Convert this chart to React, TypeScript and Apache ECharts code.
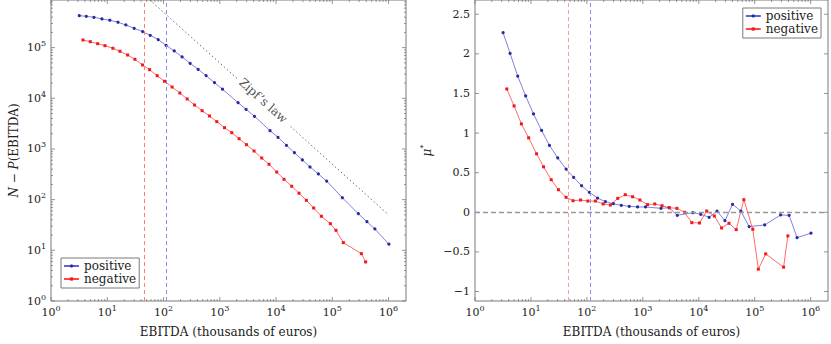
import React, { useEffect, useRef } from 'react';
import * as echarts from 'echarts';

// ---- data ----
const posX = [3.18, 4.24, 5.8, 8.04, 11.1, 15.5, 21.4, 30.1, 42.5, 58.0, 80.4, 111, 155, 214, 297, 412, 571, 805, 1117, 2113, 2931, 4131, 7816, 10830, 15280, 21190, 29380, 40090, 56500, 79400, 150700, 290000, 412000, 571000, 1013000];
const posCount = [427000, 416000, 397000, 368000, 347000, 317000, 280000, 241000, 207000, 175000, 144000, 111000, 85900, 65400, 49100, 37400, 28000, 20400, 15100, 8200, 6070, 4420, 2296, 1702, 1184, 846, 607, 441, 321, 233, 109, 52.8, 36.7, 26.4, 13.2];
const posMu = [2.267, 2.006, 1.72, 1.469, 1.242, 1.033, 0.844, 0.688, 0.545, 0.441, 0.335, 0.252, 0.18, 0.134, 0.108, 0.088, 0.076, 0.067, 0.067, 0.05, 0.058, -0.038, -0.005, -0.025, -0.063, 0.016, -0.106, 0.101, 0.016, -0.181, -0.16, -0.034, -0.038, -0.32, -0.264];

const negX = [3.7, 4.99, 6.75, 9.1, 12.6, 16.8, 23.0, 31.0, 42.4, 56.5, 77.1, 104, 142, 195, 263, 356, 485, 656, 885, 1213, 1634, 2203, 2978, 4064, 5570, 7500, 10280, 13860, 18970, 25570, 34600, 46650, 63900, 92300, 116000, 157000, 328000, 391000];
const negCount = [141600, 131000, 119600, 109300, 97100, 84700, 71600, 58900, 45500, 36700, 27900, 21700, 16700, 12700, 9700, 7380, 5700, 4480, 3460, 2630, 2096, 1595, 1216, 913, 664, 499, 351, 252, 184, 134, 97.1, 68.4, 47.0, 33.6, 24.8, 14.2, 8.6, 5.9];
const negMu = [1.557, 1.343, 1.116, 0.94, 0.738, 0.574, 0.411, 0.285, 0.189, 0.146, 0.155, 0.142, 0.142, 0.105, 0.092, 0.176, 0.222, 0.196, 0.155, 0.096, 0.105, 0.083, 0.058, 0.05, 0.0, -0.131, -0.135, 0.016, -0.047, -0.198, -0.139, -0.219, 0.159, -0.214, -0.718, -0.525, -0.693, -0.298];

const thresholdNeg = 45.5;
const thresholdPos = 113;

const zipfUpper = [[50, 1000000], [2040, 24500]];
const zipfLower = [[18000, 2780], [1000000, 50]];
const zipfLabelAt = [5900, 9000];
const zipfLabel = 'Zipf’s law';

const seriesNames = ['positive', 'negative'];
const xTitle = 'EBITDA (thousands of euros)';

const xDecades = [1, 10, 100, 1000, 10000, 100000, 1000000];
const yDecades = [1, 10, 100, 1000, 10000, 100000];
const minorSteps = [2, 3, 4, 5, 6, 7, 8, 9];
const muTicks = [-1, -0.5, 0, 0.5, 1, 1.5, 2, 2.5];

const X_MIN = 1;
const X_MAX = 2040000;
const Y1_MIN = 1;
const Y1_MAX = 871000;
const Y2_MIN = -1.12;
const Y2_MAX = 2.68;

// ---- styles ----
const FONT = '"DejaVu Serif", "Liberation Serif", serif';
const INK = '#222';
const FRAME = '#7a7a7a';
const BLUE_LINE = '#6262d6';
const BLUE_MARK = '#2a2aa0';
const RED_LINE = '#ff4646';
const RED_MARK = '#f01818';

function powLabel(v: number): string {
  const k = Math.log10(v);
  const r = Math.round(k);
  if (Math.abs(k - r) > 1e-6) return '';
  return '{b|10}{s|' + r + '}';
}
const powRich = {
  b: { fontFamily: FONT, fontSize: 11, color: INK, lineHeight: 16 },
  s: { fontFamily: FONT, fontSize: 8, color: INK, lineHeight: 8, verticalAlign: 'top' },
};
function muLabel(v: number): string {
  const r = Math.round(v * 2) / 2;
  if (Math.abs(v - r) > 1e-6) return '';
  return r < 0 ? '−' + String(-r) : String(r);
}

function logTicks(decades: number[], max: number, ref: number, axis: 'x' | 'y') {
  const out: number[][] = [];
  decades.forEach((d) => {
    out.push(axis === 'x' ? [d, ref, 4] : [ref, d, 4]);
    minorSteps.forEach((m) => {
      const v = d * m;
      if (v < max * 0.97) out.push(axis === 'x' ? [v, ref, 2] : [ref, v, 2]);
    });
  });
  return out;
}

function tickSeries(gi: number, data: number[][], orient: 'x' | 'y') {
  return {
    type: 'custom',
    xAxisIndex: gi,
    yAxisIndex: gi,
    silent: true,
    clip: false,
    z: 1,
    data,
    renderItem: (params: any, api: any) => {
      const cs = params.coordSys;
      const len = api.value(2);
      const p = api.coord([api.value(0), api.value(1)]);
      const style = { stroke: FRAME, lineWidth: 0.8 };
      if (orient === 'x') {
        const x = p[0];
        const b = cs.y + cs.height;
        const t = cs.y;
        return {
          type: 'group',
          children: [
            { type: 'line', shape: { x1: x, y1: b, x2: x, y2: b - len }, style },
            { type: 'line', shape: { x1: x, y1: t, x2: x, y2: t + len }, style },
          ],
        };
      }
      const y = p[1];
      const l = cs.x;
      const r = cs.x + cs.width;
      return {
        type: 'group',
        children: [
          { type: 'line', shape: { x1: l, y1: y, x2: l + len, y2: y }, style },
          { type: 'line', shape: { x1: r, y1: y, x2: r - len, y2: y }, style },
        ],
      };
    },
  };
}

const vLine = (x: number, color: string) => ({
  xAxis: x,
  lineStyle: { color, type: [4, 3], width: 1 },
});

function lineSeries(name: string, gi: number, xs: number[], ys: number[], isPos: boolean, marks: any[]) {
  return {
    name,
    type: 'line',
    xAxisIndex: gi,
    yAxisIndex: gi,
    data: xs.map((x, i) => [x, ys[i]]),
    symbol: isPos ? 'circle' : 'rect',
    symbolSize: isPos ? 3.2 : 3,
    showSymbol: true,
    lineStyle: { color: isPos ? BLUE_LINE : RED_LINE, width: 0.8 },
    itemStyle: { color: isPos ? BLUE_MARK : RED_MARK },
    z: 3,
    markLine: {
      silent: true,
      symbol: 'none',
      label: { show: false },
      animation: false,
      data: marks,
    },
  };
}

const legendBase = {
  data: seriesNames,
  orient: 'vertical',
  itemWidth: 15,
  itemHeight: 4,
  itemGap: 1,
  padding: [2, 3, 3, 2],
  borderColor: FRAME,
  borderWidth: 1,
  borderRadius: 0,
  backgroundColor: '#fff',
  selectedMode: false,
  textStyle: { fontFamily: FONT, fontSize: 12, color: INK },
};

const xAxisBase = (gi: number) => ({
  type: 'log',
  gridIndex: gi,
  min: X_MIN,
  max: X_MAX,
  logBase: 10,
  axisLine: { show: false },
  axisTick: { show: false },
  splitLine: { show: false },
  axisLabel: { formatter: powLabel, rich: powRich, margin: 3 },
  name: xTitle,
  nameLocation: 'middle',
  nameGap: 25,
  nameTextStyle: { fontFamily: FONT, fontSize: 12, color: INK },
});

export default function App() {
  const ref = useRef<HTMLDivElement>(null);
  useEffect(() => {
    if (!ref.current) return;
    const chart = echarts.init(ref.current, null, { renderer: 'svg' });
    const option: any = {
      animation: false,
      backgroundColor: '#fff',
      textStyle: { fontFamily: FONT },
      grid: [
        { left: 51, top: 0, width: 355, height: 301, show: true, borderColor: FRAME, borderWidth: 1, backgroundColor: 'transparent', containLabel: false },
        { left: 475, top: 0, width: 355, height: 301, show: true, borderColor: FRAME, borderWidth: 1, backgroundColor: 'transparent', containLabel: false },
      ],
      xAxis: [xAxisBase(0), xAxisBase(1)],
      yAxis: [
        {
          type: 'log',
          gridIndex: 0,
          min: Y1_MIN,
          max: Y1_MAX,
          logBase: 10,
          axisLine: { show: false },
          axisTick: { show: false },
          splitLine: { show: false },
          axisLabel: { formatter: powLabel, rich: powRich, margin: 5 },
          name: '{i|N} − {i|P}(EBITDA)',
          nameLocation: 'middle',
          nameRotate: 90,
          nameGap: 31,
          nameTextStyle: {
            fontFamily: FONT,
            fontSize: 12,
            color: INK,
            rich: { i: { fontFamily: FONT, fontSize: 12, fontStyle: 'italic', color: INK } },
          },
        },
        {
          type: 'value',
          gridIndex: 1,
          min: Y2_MIN,
          max: Y2_MAX,
          splitNumber: 8,
          axisLine: { show: false },
          axisTick: { show: false },
          splitLine: { show: false },
          axisLabel: { formatter: muLabel, fontFamily: FONT, fontSize: 11, color: INK, margin: 5 },
          name: '{i|μ}{s|*}',
          nameLocation: 'middle',
          nameRotate: 90,
          nameGap: 40,
          nameTextStyle: {
            fontFamily: FONT,
            fontSize: 12,
            color: INK,
            rich: {
              i: { fontFamily: FONT, fontSize: 12, fontStyle: 'italic', color: INK, lineHeight: 16 },
              s: { fontFamily: FONT, fontSize: 8, color: INK, lineHeight: 8, verticalAlign: 'top' },
            },
          },
        },
      ],
      legend: [
        { ...legendBase, left: 61, top: 258 },
        { ...legendBase, right: 10, top: 8 },
      ],
      series: [
        lineSeries('positive', 0, posX, posCount, true, [vLine(thresholdPos, '#8a8aff')]),
        lineSeries('negative', 0, negX, negCount, false, [vLine(thresholdNeg, '#ff7a7a')]),
        {
          name: 'zipf-a',
          type: 'line',
          xAxisIndex: 0,
          yAxisIndex: 0,
          data: zipfUpper,
          showSymbol: false,
          symbol: 'none',
          silent: true,
          lineStyle: { color: '#444', width: 0.8, type: [1.5, 2.5] },
          z: 2,
        },
        {
          name: 'zipf-b',
          type: 'line',
          xAxisIndex: 0,
          yAxisIndex: 0,
          data: zipfLower,
          showSymbol: false,
          symbol: 'none',
          silent: true,
          lineStyle: { color: '#444', width: 0.8, type: [1.5, 2.5] },
          z: 2,
        },
        {
          name: 'zipf-label',
          type: 'scatter',
          xAxisIndex: 0,
          yAxisIndex: 0,
          data: [zipfLabelAt],
          symbolSize: 0,
          silent: true,
          label: {
            show: true,
            position: 'inside',
            formatter: zipfLabel,
            rotate: -42,
            fontFamily: FONT,
            fontSize: 12,
            color: INK,
          },
        },
        lineSeries('positive', 1, posX, posMu, true, [
          vLine(thresholdPos, '#8a8aff'),
          { yAxis: 0, lineStyle: { color: '#999', type: [5, 3], width: 1.4 } },
        ]),
        lineSeries('negative', 1, negX, negMu, false, [vLine(thresholdNeg, '#ff9a9a')]),
        tickSeries(0, logTicks(xDecades, X_MAX, 10, 'x'), 'x'),
        tickSeries(0, logTicks(yDecades, Y1_MAX, 10, 'y'), 'y'),
        tickSeries(1, logTicks(xDecades, X_MAX, 0, 'x'), 'x'),
        tickSeries(1, muTicks.map((v) => [10, v, 4]), 'y'),
      ],
    };
    chart.setOption(option);
    return () => chart.dispose();
  }, []);
  return (
    <div
      ref={ref}
      style={{ position: 'absolute', left: 0, top: 0, width: 831, height: 344, background: '#fff' }}
    />
  );
}
